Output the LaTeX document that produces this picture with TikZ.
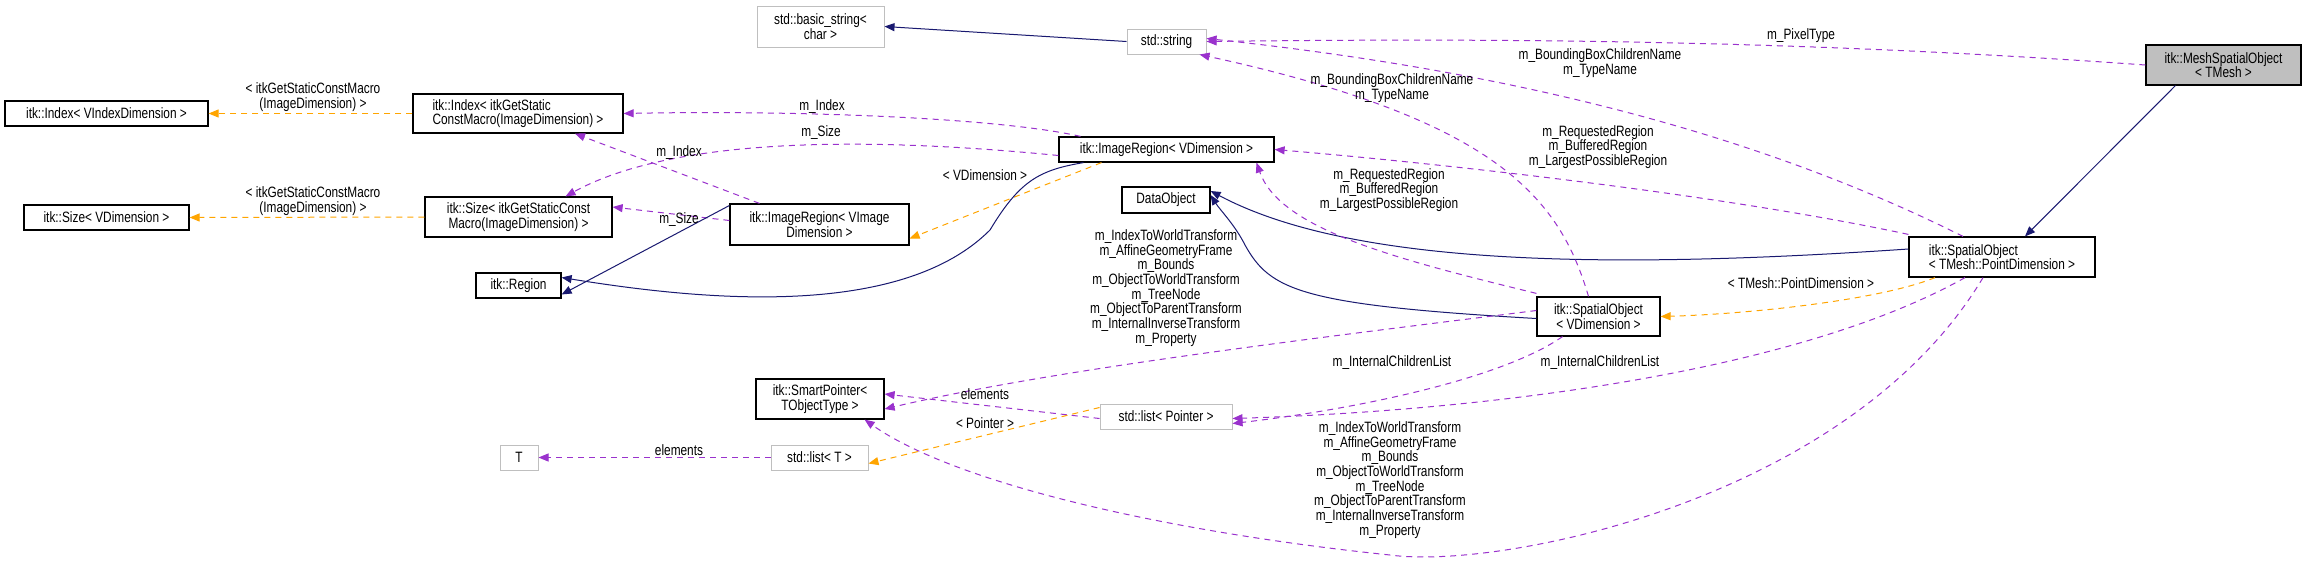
\documentclass[tikz,border=0pt]{standalone}
\usepackage{fontspec}
\setmainfont{Liberation Sans}[FakeStretch=0.79]
\usetikzlibrary{arrows.meta}
\definecolor{pur}{HTML}{9A32CD}
\definecolor{org}{HTML}{FFA500}
\definecolor{nav}{HTML}{191970}
\definecolor{gbord}{HTML}{BFBFBF}
\begin{document}
\begin{tikzpicture}[x=1pt,y=-1pt,
  font=\fontsize{15}{14.7}\selectfont,
  box/.style={draw=black,line width=1.2pt,inner sep=0pt,align=center,fill=white},
  gbox/.style={draw=gbord,line width=1pt,inner sep=0pt,align=center,fill=white},
  mem/.style={-{Triangle[length=10pt,width=8pt,fill=pur]},draw=pur,dash pattern=on 6pt off 5pt,line width=1pt},
  tmpl/.style={-{Triangle[length=10pt,width=8pt,fill=org]},draw=org,dash pattern=on 6pt off 5pt,line width=1pt},
  inh/.style={-{Triangle[length=10pt,width=8pt,fill=nav]},draw=nav,line width=1pt},
  lbl/.style={align=center,inner sep=0pt}]
\useasboundingbox (0,0) rectangle (2307,563);
\fill[white] (0,0) rectangle (2307,563);
% nodes
\node[gbox,minimum width=127pt,minimum height=41pt] (bstr) at (820.5,26.5) {std::basic\_string\textless\\char \textgreater};
\node[gbox,minimum width=79pt,minimum height=25pt] (str) at (1166.5,41.5) {std::string};
\node[box,fill=gbord,minimum width=155pt,minimum height=40pt] (mesh) at (2223.5,65) {itk::MeshSpatialObject\\\textless{} TMesh \textgreater};
\node[box,minimum width=203pt,minimum height=25pt] (idxV) at (106.5,113.5) {itk::Index\textless{} VIndexDimension \textgreater};
\node[box,minimum width=210pt,minimum height=39pt,align=left] (idxG) at (518,113.5) {itk::Index\textless{} itkGetStatic\\ConstMacro(ImageDimension) \textgreater};
\node[box,minimum width=165pt,minimum height=25pt] (sizeV) at (106.5,217.5) {itk::Size\textless{} VDimension \textgreater};
\node[box,minimum width=187pt,minimum height=40pt] (sizeG) at (518.5,217) {itk::Size\textless{} itkGetStaticConst\\Macro(ImageDimension) \textgreater};
\node[box,minimum width=85pt,minimum height=25pt] (region) at (518.5,285.5) {itk::Region};
\node[gbox,minimum width=38pt,minimum height=25pt] (T) at (519,457.5) {T};
\node[box,minimum width=215pt,minimum height=25pt] (irV) at (1166.5,149.5) {itk::ImageRegion\textless{} VDimension \textgreater};
\node[box,minimum width=88pt,minimum height=26pt] (dobj) at (1166,200) {DataObject};
\node[box,minimum width=179pt,minimum height=41pt] (irVI) at (819.5,224.5) {itk::ImageRegion\textless{} VImage\\Dimension \textgreater};
\node[box,minimum width=123pt,minimum height=39pt] (soV) at (1598.5,316.5) {itk::SpatialObject\\\textless{} VDimension \textgreater};
\node[box,minimum width=186pt,minimum height=40pt,align=left] (soT) at (2002,257) {itk::SpatialObject\\\textless{} TMesh::PointDimension \textgreater};
\node[box,minimum width=128pt,minimum height=40pt] (sp) at (820,399) {itk::SmartPointer\textless\\TObjectType \textgreater};
\node[gbox,minimum width=132pt,minimum height=25pt] (lp) at (1166,416.5) {std::list\textless{} Pointer \textgreater};
\node[gbox,minimum width=97pt,minimum height=25pt] (lT) at (819.5,457.5) {std::list\textless{} T \textgreater};
% edges
\draw[inh] (str.west) -- (bstr.east);
\draw[mem] (mesh.west) .. controls (1800,40) and (1500,38) .. (str.east);
\coordinate (m1) at ([xshift=30pt]mesh.south west);
\draw[inh] (m1) -- ([xshift=23pt]soT.north);
\draw[mem] ([xshift=-39pt]soT.north) .. controls (1750,130) and (1500,70) .. ([yshift=3pt]str.east);
\draw[mem] ([yshift=2pt]soT.north west) .. controls (1700,190) and (1400,160) .. (irV.east);
\draw[inh] ([yshift=8pt]soT.west) .. controls (1600,270) and (1350,265) .. ([yshift=9pt]dobj.east);
\draw[tmpl] ([xshift=-67pt]soT.south) .. controls (1880,300) and (1750,314) .. (soV.east);
\draw[mem] ([xshift=-37pt]soT.south) .. controls (1800,370) and (1500,410) .. ([yshift=-2pt]lp.east);
\draw[mem] ([xshift=-19pt]soT.south) .. controls (1850,500) and (1500,570) .. (1390,555) .. controls (1150,530) and (950,480) .. ([xshift=-20pt]sp.south east);
\draw[mem] ([xshift=-10pt]soV.north) .. controls (1560,200) and (1500,120) .. ([xshift=33pt]str.south);
\draw[mem] ([yshift=3pt]soV.north west) .. controls (1400,260) and (1280,230) .. ([xshift=90pt]irV.south);
\draw[inh] ([yshift=-2pt]soV.west) .. controls (1300,305) and (1270,290) .. (1245,245) .. controls (1235,225) and (1220,210) .. ([yshift=5pt]dobj.east);
\draw[mem] ([yshift=6pt]soV.west) .. controls (1300,340) and (1050,370) .. ([yshift=-10pt]sp.east);
\draw[mem] ([xshift=-36pt]soV.south) .. controls (1500,380) and (1350,410) .. ([yshift=-7pt]lp.east);
\draw[mem] ([yshift=-2pt]lp.west) -- ([yshift=5pt]sp.east);
\draw[tmpl] ([yshift=9pt]lp.west) -- ([yshift=-6pt]lT.east);
\draw[mem] (lT.west) -- (T.east);
\draw[mem] ([xshift=-86pt]irV.north) .. controls (1000,118) and (800,110) .. (idxG.east);
\draw[mem] ([yshift=-6pt]irV.west) .. controls (800,130) and (650,150) .. ([xshift=47pt]sizeG.north);
\draw[tmpl] ([xshift=-65pt]irV.south) -- ([yshift=-14pt]irVI.east);
\draw[inh] ([xshift=-83pt]irV.south) .. controls (1040,170) and (1020,180) .. (990,230) .. controls (900,320) and (700,300) .. ([yshift=8pt]region.east);
\draw[mem] ([xshift=-60pt]irVI.north) -- ([xshift=57pt]idxG.south);
\draw[mem] ([yshift=4pt]irVI.west) -- ([yshift=10pt]sizeG.east);
\draw[inh] ([yshift=19pt]irVI.west) -- ([yshift=-9pt]region.east);
\draw[tmpl] (idxG.west) -- (idxV.east);
\draw[tmpl] (sizeG.west) -- (sizeV.east);
% labels
\node[lbl] (l1) at (1801,36) {m\_PixelType};
\node[lbl] (l2) at (1600,63) {m\_BoundingBoxChildrenName\\m\_TypeName};
\node[lbl] (l3) at (1598,147) {m\_RequestedRegion\\m\_BufferedRegion\\m\_LargestPossibleRegion};
\node[lbl] (l4) at (1801,283) {\textless{} TMesh::PointDimension \textgreater};
\node[lbl] (l5) at (1600,363) {m\_InternalChildrenList};
\node[lbl] (l6) at (1390,480) {m\_IndexToWorldTransform\\m\_AffineGeometryFrame\\m\_Bounds\\m\_ObjectToWorldTransform\\m\_TreeNode\\m\_ObjectToParentTransform\\m\_InternalInverseTransform\\m\_Property};
\node[lbl] (l7) at (1392,88) {m\_BoundingBoxChildrenName\\m\_TypeName};
\node[lbl] (l8) at (1389,190) {m\_RequestedRegion\\m\_BufferedRegion\\m\_LargestPossibleRegion};
\node[lbl] (l9) at (1166,288) {m\_IndexToWorldTransform\\m\_AffineGeometryFrame\\m\_Bounds\\m\_ObjectToWorldTransform\\m\_TreeNode\\m\_ObjectToParentTransform\\m\_InternalInverseTransform\\m\_Property};
\node[lbl] (l10) at (1392,363) {m\_InternalChildrenList};
\node[lbl] (l11) at (985,394) {elements};
\node[lbl] (l12) at (985,423) {\textless{} Pointer \textgreater};
\node[lbl] (l13) at (679,450) {elements};
\node[lbl] (l14) at (822,107) {m\_Index};
\node[lbl] (l15) at (821,133) {m\_Size};
\node[lbl] (l16) at (985,175) {\textless{} VDimension \textgreater};
\node[lbl] (l17) at (679,153) {m\_Index};
\node[lbl] (l18) at (679,220) {m\_Size};
\node[lbl] (l19) at (313,97) {\textless{} itkGetStaticConstMacro\\(ImageDimension) \textgreater};
\node[lbl] (l20) at (313,201) {\textless{} itkGetStaticConstMacro\\(ImageDimension) \textgreater};
\end{tikzpicture}
\end{document}
